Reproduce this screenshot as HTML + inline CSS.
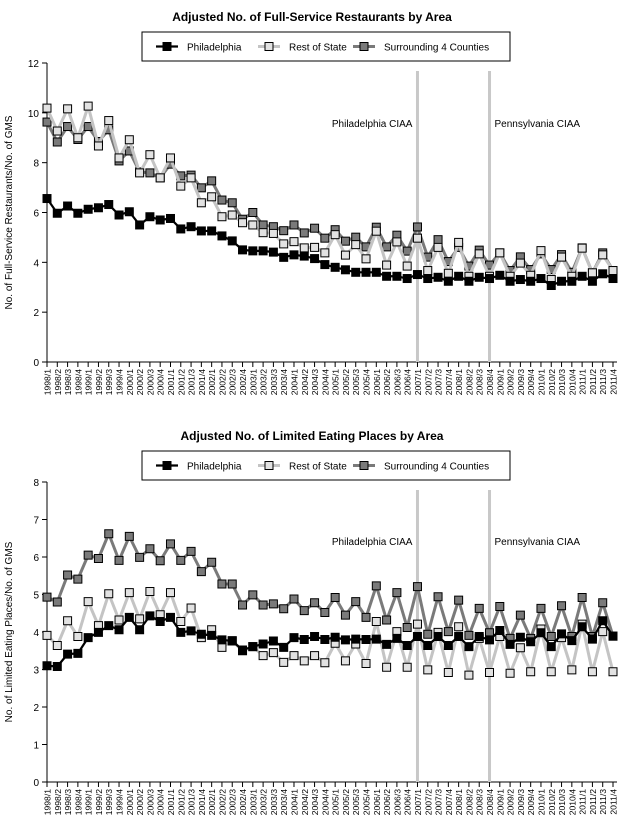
<!DOCTYPE html>
<html><head><meta charset="utf-8">
<style>
body{margin:0;background:#fff;}
svg{display:block;font-family:"Liberation Sans","DejaVu Sans",sans-serif;}
</style></head>
<body>
<svg id="chart" width="620" height="836" viewBox="0 0 620 836" xmlns="http://www.w3.org/2000/svg"></svg>
<script>
// ---- shared categories ----
const categories = [];
for (let y = 1998; y <= 2011; y++) for (let q = 1; q <= 4; q++) categories.push(y + "/" + q);

// ---- Chart 1: Full-Service Restaurants ----
const fsPhiladelphia = [6.56,5.97,6.26,5.97,6.13,6.19,6.32,5.9,6.03,5.5,5.83,5.7,5.76,5.34,5.43,5.26,5.26,5.06,4.86,4.5,4.46,4.46,4.41,4.2,4.3,4.25,4.15,3.91,3.8,3.7,3.6,3.6,3.6,3.44,3.44,3.35,3.51,3.35,3.4,3.24,3.44,3.24,3.4,3.35,3.48,3.24,3.31,3.24,3.35,3.07,3.24,3.24,3.44,3.24,3.54,3.35];
const fsRestOfState = [10.19,9.27,10.16,9.0,10.27,8.67,9.69,8.19,8.92,7.59,8.32,7.39,8.19,7.06,7.39,6.39,6.63,5.83,5.9,5.59,5.5,5.19,5.16,4.74,4.83,4.58,4.6,4.38,5.11,4.29,4.71,4.14,5.25,3.89,4.82,3.85,4.97,3.67,4.6,3.56,4.8,3.44,4.34,3.44,4.38,3.44,3.97,3.48,4.47,3.31,4.21,3.44,4.57,3.58,4.3,3.67];
const fsSurrounding = [9.63,8.83,9.45,8.93,9.45,8.85,9.32,8.07,8.47,7.63,7.59,7.39,7.94,7.47,7.5,6.99,7.27,6.5,6.39,5.73,6.0,5.5,5.43,5.27,5.5,5.18,5.37,4.97,5.31,4.85,5.01,4.62,5.41,4.62,5.09,4.45,5.42,4.21,4.91,4.03,4.6,3.85,4.49,3.89,4.38,3.67,4.22,3.71,4.34,3.71,4.31,3.6,4.58,3.58,4.38,3.67];
const fsTicks = [0,2,4,6,8,10,12];

// ---- Chart 2: Limited Eating Places ----
const lePhiladelphia = [3.1,3.08,3.41,3.43,3.85,3.99,4.17,4.06,4.39,4.06,4.43,4.28,4.39,3.99,4.03,3.94,3.91,3.79,3.76,3.52,3.61,3.68,3.76,3.59,3.85,3.8,3.88,3.8,3.86,3.79,3.81,3.8,3.81,3.67,3.83,3.64,3.88,3.64,3.88,3.64,3.88,3.61,3.88,3.79,4.04,3.67,3.86,3.74,3.98,3.61,3.95,3.77,4.14,3.81,4.3,3.89];
const leRestOfState = [3.91,3.64,4.3,3.88,4.81,4.17,5.02,4.32,5.05,4.35,5.08,4.46,5.05,4.28,4.64,3.85,4.06,3.59,3.77,3.5,3.61,3.37,3.45,3.19,3.37,3.23,3.37,3.18,3.7,3.23,3.68,3.16,4.28,3.06,4.01,3.06,4.21,2.99,3.99,2.92,4.14,2.85,3.83,2.92,3.88,2.9,3.58,2.94,4.08,2.94,3.85,2.99,4.21,2.94,4.01,2.94];
const leSurrounding = [4.93,4.8,5.52,5.41,6.05,5.96,6.62,5.91,6.55,5.99,6.22,5.9,6.35,5.91,6.15,5.61,5.86,5.28,5.28,4.72,4.99,4.72,4.75,4.62,4.88,4.57,4.78,4.52,4.92,4.45,4.81,4.39,5.23,4.32,5.05,4.12,5.21,3.94,4.94,4.01,4.85,3.91,4.63,3.98,4.68,3.83,4.45,3.83,4.63,3.88,4.7,3.88,4.92,3.88,4.78,3.89];
const leTicks = [0,1,2,3,4,5,6,7,8];

const eventLabels = ["Philadelphia CIAA","Pennsylvania CIAA"];
const eventCategories = ["2007/1","2008/4"];

const NS = "http://www.w3.org/2000/svg";
const svg = document.getElementById("chart");
function mk(tag, attrs, parent, text){
  const e = document.createElementNS(NS, tag);
  for (const k in attrs) e.setAttribute(k, attrs[k]);
  if (text !== undefined) e.textContent = text;
  (parent || svg).appendChild(e);
  return e;
}

const seriesStyle = [
  {key:"philadelphia", label:"Philadelphia", line:"#000", lw:2.2, fill:"#000"},
  {key:"rest-of-state", label:"Rest of State", line:"#c4c4c4", lw:3, fill:"#e2e2e2"},
  {key:"surrounding-4-counties", label:"Surrounding 4 Counties", line:"#7a7a7a", lw:3, fill:"#7a7a7a"}
];

function drawChart(prefix, cfg, seriesData, ticks){
  const g = mk("g", {});
  
  
  const x0 = 47, x1 = 613, yTop = cfg.yTop, yBot = cfg.yBot, yMax = ticks[ticks.length-1];
  const xs = i => x0 + (x1 - x0) * i / (categories.length - 1);
  const ys = v => yBot - (yBot - yTop) * v / yMax;

  const t = mk("text", {x:312, y:cfg.titleY, "text-anchor":"middle", "font-size":"12", "font-weight":"bold"}, g, cfg.title);
  
  

  // legend
  const lg = mk("g", {}, g);
  
  
  mk("rect", {x:142, y:cfg.legY, width:368, height:29, fill:"#fff", stroke:"#000", "stroke-width":1}, lg);
  const lx = [156, 258, 353];
  seriesStyle.forEach((s, k) => {
    const e = mk("g", {}, lg);
    
    
    const cy = cfg.legY + 14.5;
    mk("line", {x1:lx[k], x2:lx[k]+22, y1:cy, y2:cy, stroke:s.line, "stroke-width":s.lw}, e);
    mk("rect", {x:lx[k]+7, y:cy-4, width:8, height:8, fill:s.fill, stroke:"#000", "stroke-width":1}, e);
    mk("text", {x:lx[k]+31, y:cy+4, "font-size":"10"}, e, s.label);
  });

  // axes
  const ax = mk("g", {}, g);
  
  
  mk("line", {x1:x0, x2:x0, y1:yTop, y2:yBot, stroke:"#000", "stroke-width":1}, ax);
  ticks.forEach(v => {
    mk("line", {x1:x0-5, x2:x0, y1:ys(v), y2:ys(v), stroke:"#000"}, ax);
    mk("text", {x:x0-8, y:ys(v)+4, "text-anchor":"end", "font-size":"10"}, ax, v);
  });
  const yt = mk("text", {transform:`translate(12,${(yTop+yBot)/2}) rotate(-90)`, "text-anchor":"middle", "font-size":"10"}, g, cfg.yLabel);
  
  

  const xa = mk("g", {}, g);
  
  
  mk("line", {x1:x0-4, x2:617, y1:yBot, y2:yBot, stroke:"#000"}, xa);
  categories.forEach((c, i) => {
    mk("line", {x1:xs(i), x2:xs(i), y1:yBot, y2:yBot+5, stroke:"#000"}, xa);
    mk("text", {transform:`translate(${xs(i)+3.5},${yBot+7}) rotate(-90)`, "text-anchor":"end", "font-size":"8.6"}, xa, c);
  });

  // event lines
  eventCategories.forEach((c, k) => {
    const xi = xs(categories.indexOf(c));
    const ev = mk("g", {}, g);
    
    
    mk("line", {x1:xi, x2:xi, y1:yTop+8, y2:yBot, stroke:"#c8c8c8", "stroke-width":3}, ev);
    mk("text", {x: k===0 ? xi-5 : xi+5, y:cfg.evY, "text-anchor": k===0 ? "end" : "start", "font-size":"10"}, ev, eventLabels[k]);
  });

  // series
  [2,1,0].forEach(k => {
    const s = seriesStyle[k], data = seriesData[k];
    const sg = mk("g", {}, g);
    
    
    mk("polyline", {points:data.map((v,i)=>xs(i)+","+ys(v)).join(" "), fill:"none", stroke:s.line, "stroke-width":s.lw, "stroke-linejoin":"round"}, sg);
    data.forEach((v,i) => {
      const r = mk("rect", {x:xs(i)-4, y:ys(v)-4, width:8, height:8, fill:s.fill, stroke:"#000", "stroke-width":1}, sg);
      
      
    });
  });
}

drawChart("full-service", {title:"Adjusted No. of Full-Service Restaurants by Area", titleY:21, legY:32, yTop:63, yBot:362, evY:127, yLabel:"No. of Full-Service Restaurants/No. of GMS"},
  [fsPhiladelphia, fsRestOfState, fsSurrounding], fsTicks);
drawChart("limited-eating", {title:"Adjusted No. of Limited Eating Places by Area", titleY:440, legY:451, yTop:482, yBot:782, evY:545, yLabel:"No. of Limited Eating Places/No. of GMS"},
  [lePhiladelphia, leRestOfState, leSurrounding], leTicks);
</script>
</body></html>
